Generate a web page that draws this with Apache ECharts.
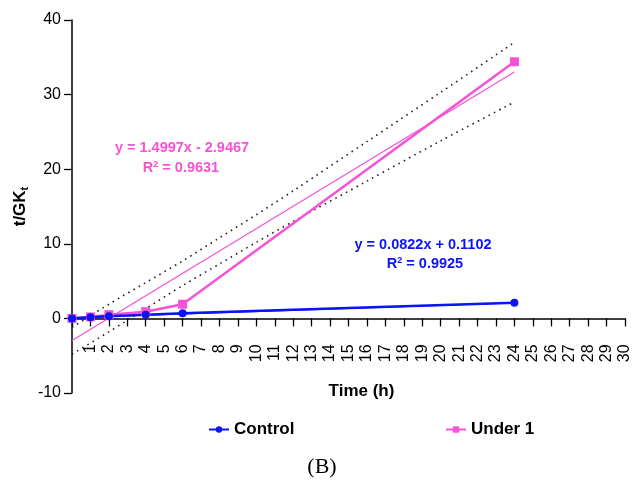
<!DOCTYPE html>
<html>
<head>
<meta charset="utf-8">
<script src="https://cdn.jsdelivr.net/npm/echarts@6/dist/echarts.min.js"></script>
<style>
  html, body { margin: 0; padding: 0; background: #fff; }
  #chart { width: 633px; height: 481px; }
</style>
</head>
<body>
<div id="chart"></div>
<script>
// measured values (time in h)
const timePoints = [0, 1, 2, 4, 6, 24]
const control = [0, 0.15, 0.3, 0.5, 0.7, 2.1]
const under1 = [0, 0.2, 0.5, 0.9, 1.9, 34.4]

// fitted lines at both ends
const fitX = [0, 24]
const controlFit = [0.11, 2.08]
const under1Fit = [-2.95, 33.04]

// dotted confidence band round the Under 1 fit
const bandX = [0, 2, 4, 6, 8, 10, 12, 16, 20, 24]
const bandUpper = [-1.2, 1.9, 4.8, 7.7, 10.8, 13.9, 17.1, 23.7, 30.3, 37.0]
const bandLower = [-4.8, -1.8, 1.3, 4.4, 7.3, 10.2, 13.0, 18.4, 23.8, 29.0]

const BLUE = '#0a14f5'
const PINK = '#f552d6'
const FONT = 'Liberation Sans'

const pairs = (xs, ys) => xs.map((x, i) => [x, ys[i]])

let chart = echarts.init(document.getElementById('chart'))
chart.setOption({
  animation: false,
  textStyle: { fontFamily: FONT, color: '#000' },
  grid: { left: 72, right: 5, top: 20, bottom: 88 },
  legend: [
    {
      data: ['Control'], left: 203, top: 416,
      itemWidth: 20, itemHeight: 8, itemGap: 10,
      textStyle: { fontFamily: FONT, fontSize: 17, fontWeight: 'bold', color: '#000' }
    },
    {
      data: ['Under 1'], left: 440, top: 416,
      itemWidth: 20, itemHeight: 8, itemGap: 10,
      textStyle: { fontFamily: FONT, fontSize: 17, fontWeight: 'bold', color: '#000' }
    }
  ],
  xAxis: {
    type: 'value', min: 0, max: 30, interval: 1,
    // axis sits on y = 0, which is 74.6px above the grid bottom
    offset: -74.6,
    name: 'Time (h)', nameLocation: 'middle', nameGap: 64,
    nameTextStyle: { fontFamily: FONT, fontSize: 17, fontWeight: 'bold', color: '#000', padding: [0, 0, 0, 26] },
    axisLine: { show: true, onZero: false, lineStyle: { color: '#000', width: 1.5 } },
    axisTick: { show: true, length: 8, lineStyle: { color: '#000', width: 1.3 } },
    axisLabel: {
      rotate: 90, fontSize: 16, margin: 26, color: '#000',
      formatter: v => (v === 0 ? '' : String(v))
    },
    splitLine: { show: false }
  },
  yAxis: {
    type: 'value', min: -10, max: 40, interval: 10,
    name: 't/GK{sub|t}', nameLocation: 'middle', nameGap: 42,
    nameMoveOverlap: false,
    nameTextStyle: {
      fontFamily: FONT, fontSize: 17, fontWeight: 'bold', color: '#000',
      rich: {
        sub: { fontFamily: FONT, fontSize: 11, fontWeight: 'bold', color: '#000', verticalAlign: 'bottom', padding: [8, 0, 0, 0] }
      }
    },
    axisLine: { show: true, lineStyle: { color: '#000', width: 1.5 } },
    axisTick: { show: true, length: 8, lineStyle: { color: '#000', width: 1.3 } },
    axisLabel: { fontSize: 16, margin: 11, color: '#000' },
    splitLine: { show: false }
  },
  series: [
    {
      name: 'band upper', type: 'line', data: pairs(bandX, bandUpper),
      showSymbol: false, smooth: 0.3, silent: true,
      lineStyle: { color: '#222', width: 1.6, type: [1.6, 4.4] }
    },
    {
      name: 'band lower', type: 'line', data: pairs(bandX, bandLower),
      showSymbol: false, smooth: 0.3, silent: true,
      lineStyle: { color: '#222', width: 1.6, type: [1.6, 4.4] }
    },
    {
      name: 'Under 1 fit', type: 'line', data: pairs(fitX, under1Fit),
      showSymbol: false, silent: true,
      lineStyle: { color: PINK, width: 1.2 }
    },
    {
      name: 'Control fit', type: 'line', data: pairs(fitX, controlFit),
      showSymbol: false, silent: true,
      lineStyle: { color: BLUE, width: 1.2 }
    },
    {
      name: 'Under 1', type: 'line', data: pairs(timePoints, under1),
      symbol: 'rect', symbolSize: 9,
      itemStyle: { color: PINK },
      lineStyle: { color: PINK, width: 2.5 }
    },
    {
      name: 'Control', type: 'line', data: pairs(timePoints, control),
      symbol: 'circle', symbolSize: 8,
      itemStyle: { color: BLUE },
      lineStyle: { color: BLUE, width: 2.5 }
    }
  ],
  graphic: [
    {
      type: 'text',
      style: {
        text: 'y = 1.4997x - 2.9467', x: 182, y: 148,
        align: 'center', verticalAlign: 'middle',
        fontFamily: FONT, fontSize: 14.5, fontWeight: 'bold', fill: PINK
      }
    },
    {
      type: 'text',
      style: {
        text: 'R{sup|2} = 0.9631', x: 181, y: 168,
        align: 'center', verticalAlign: 'middle',
        fontFamily: FONT, fontSize: 14.5, fontWeight: 'bold', fill: PINK,
        rich: { sup: { fontSize: 9, fontWeight: 'bold', fill: PINK, verticalAlign: 'top', padding: [0, 0, 6, 0] } }
      }
    },
    {
      type: 'text',
      style: {
        text: 'y = 0.0822x + 0.1102', x: 423, y: 245,
        align: 'center', verticalAlign: 'middle',
        fontFamily: FONT, fontSize: 14.5, fontWeight: 'bold', fill: BLUE
      }
    },
    {
      type: 'text',
      style: {
        text: 'R{sup|2} = 0.9925', x: 425, y: 264,
        align: 'center', verticalAlign: 'middle',
        fontFamily: FONT, fontSize: 14.5, fontWeight: 'bold', fill: BLUE,
        rich: { sup: { fontSize: 9, fontWeight: 'bold', fill: BLUE, verticalAlign: 'top', padding: [0, 0, 6, 0] } }
      }
    },
    {
      type: 'text',
      style: {
        text: '(B)', x: 322, y: 467,
        align: 'center', verticalAlign: 'middle',
        fontFamily: 'Liberation Serif', fontSize: 22, fill: '#000'
      }
    }
  ]
})
</script>
</body>
</html>
